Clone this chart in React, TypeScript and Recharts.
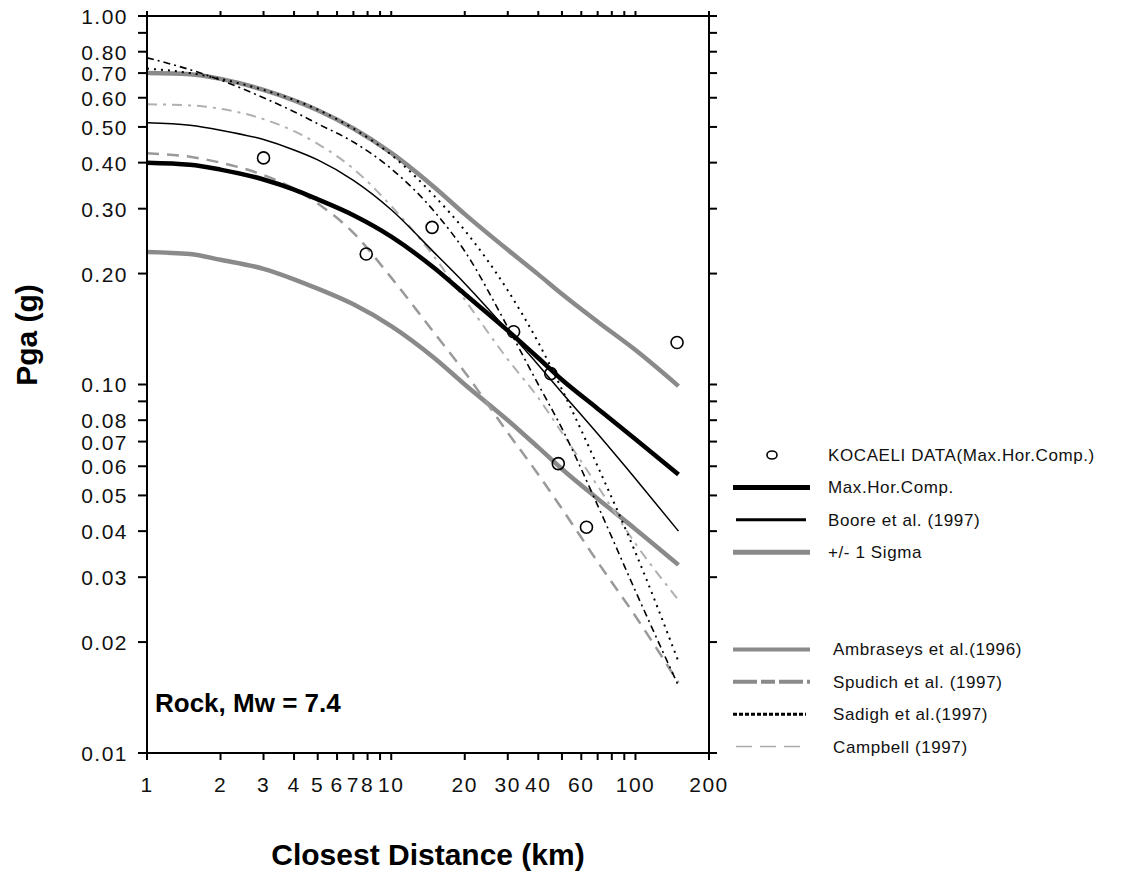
import React from 'react';
import { ComposedChart, Line, Scatter, XAxis, YAxis } from 'recharts';

// ---- data ----
const distances = [1, 1.5, 2, 3, 4, 5, 7, 10, 15, 20, 30, 40, 50, 70, 100, 150];
const maxHorComp = [0.40, 0.395, 0.383, 0.36, 0.338, 0.318, 0.288, 0.252, 0.207, 0.176, 0.14, 0.118, 0.103, 0.086, 0.071, 0.057];
const boore = [0.513, 0.505, 0.49, 0.462, 0.433, 0.407, 0.358, 0.298, 0.228, 0.188, 0.14, 0.113, 0.095, 0.0735, 0.0555, 0.040];
const sigmaUpper = [0.70, 0.695, 0.675, 0.63, 0.59, 0.555, 0.495, 0.425, 0.343, 0.29, 0.232, 0.199, 0.176, 0.148, 0.124, 0.099];
const sigmaLower = [0.229, 0.226, 0.218, 0.206, 0.193, 0.182, 0.165, 0.144, 0.118, 0.10, 0.08, 0.0675, 0.059, 0.049, 0.0405, 0.0324];
const ambraseys = [0.576, 0.572, 0.56, 0.525, 0.487, 0.45, 0.385, 0.305, 0.222, 0.17, 0.117, 0.092, 0.074, 0.053, 0.037, 0.026];
const spudich = [0.424, 0.415, 0.40, 0.37, 0.34, 0.31, 0.258, 0.195, 0.138, 0.108, 0.074, 0.057, 0.046, 0.033, 0.0235, 0.0155];
const sadigh = [0.72, 0.70, 0.675, 0.63, 0.592, 0.557, 0.495, 0.42, 0.325, 0.262, 0.18, 0.13, 0.097, 0.06, 0.035, 0.0177];
const campbell = [0.77, 0.715, 0.67, 0.60, 0.55, 0.51, 0.455, 0.385, 0.295, 0.23, 0.143, 0.10, 0.076, 0.047, 0.0275, 0.0152];

const kocaeliDist = [3.0, 7.9, 14.7, 31.7, 45, 48.3, 63, 148];
const kocaeliPga = [0.412, 0.226, 0.267, 0.139, 0.107, 0.061, 0.041, 0.130];

const xTicks = [1, 2, 3, 4, 5, 6, 7, 8, 9, 10, 20, 30, 40, 50, 60, 70, 80, 90, 100, 200];
const xTickLabels = [1, 2, 3, 4, 5, 6, 7, 8, 10, 20, 30, 40, 60, 100, 200];
const yTicks = [0.01, 0.02, 0.03, 0.04, 0.05, 0.06, 0.07, 0.08, 0.09, 0.1, 0.2, 0.3, 0.4, 0.5, 0.6, 0.7, 0.8, 0.9, 1];
const yUnlabeled = [0.09, 0.9];

const legendLabels = [
  'KOCAELI DATA(Max.Hor.Comp.)',
  'Max.Hor.Comp.',
  'Boore et al. (1997)',
  '+/- 1 Sigma',
  'Ambraseys et al.(1996)',
  'Spudich et al. (1997)',
  'Sadigh et al.(1997)',
  'Campbell (1997)',
];

// ---- tables built from the arrays ----
const rows = distances.map((d, i) => ({
  d,
  max: maxHorComp[i],
  boore: boore[i],
  sigU: sigmaUpper[i],
  sigL: sigmaLower[i],
  amb: ambraseys[i],
  spu: spudich[i],
  sad: sadigh[i],
  cam: campbell[i],
}));
const points = kocaeliDist.map((d, i) => ({ d, pga: kocaeliPga[i] }));

const FONT = 'Arial, "Liberation Sans", sans-serif';

const tickFont: React.CSSProperties = {
  fontFamily: FONT,
  fontSize: 21,
  letterSpacing: 1.5,
};

const renderBottomTick = (props: any) => {
  const { x, y, payload } = props;
  const v = payload.value;
  if (!xTickLabels.includes(v)) return <g />;
  return (
    <text x={x} y={y} dy="0.71em" textAnchor="middle" fill="#111" style={tickFont}>
      {String(v)}
    </text>
  );
};

const renderLeftTick = (props: any) => {
  const { x, y, payload } = props;
  const v = payload.value;
  if (yUnlabeled.includes(v)) return <g />;
  return (
    <text x={x} y={y} dy="0.38em" textAnchor="end" fill="#111" style={tickFont}>
      {Number(v).toFixed(2)}
    </text>
  );
};

const emptyTick = () => <g />;

const circleShape = (props: any) => (
  <circle cx={props.cx} cy={props.cy} r={6} fill="none" stroke="#000" strokeWidth={1.6} />
);

const axisStroke = { stroke: '#000', strokeWidth: 2 };

const SIGMA = '#8a8a8a';

function LegendSample({ i, y }: { i: number; y: number }) {
  switch (i) {
    case 0:
      return <ellipse cx={772} cy={y} rx={5} ry={4} fill="none" stroke="#000" strokeWidth={1.6} />;
    case 1:
      return <line x1={733} x2={810} y1={y} y2={y} stroke="#000" strokeWidth={5} />;
    case 2:
      return <line x1={736} x2={806} y1={y} y2={y} stroke="#000" strokeWidth={3} />;
    case 3:
      return <line x1={733} x2={810} y1={y} y2={y} stroke={SIGMA} strokeWidth={5} />;
    case 4:
      return <line x1={733} x2={810} y1={y} y2={y} stroke={SIGMA} strokeWidth={4} />;
    case 5:
      return <line x1={733} x2={810} y1={y} y2={y} stroke={SIGMA} strokeWidth={4} strokeDasharray="24 4 14 4" />;
    case 6:
      return <line x1={733} x2={806} y1={y} y2={y} stroke="#000" strokeWidth={3} strokeDasharray="4 2" />;
    default:
      return <line x1={736} x2={808} y1={y} y2={y} stroke="#aaa" strokeWidth={1.5} strokeDasharray="16 8" />;
  }
}

export default function App() {
  return (
    <div style={{ position: 'absolute', left: 0, top: 0, width: 1141, height: 871, background: '#fff' }}>
      <ComposedChart
        width={1141}
        height={871}
        data={rows}
        margin={{ top: 6, right: 422, bottom: 78, left: 87 }}
      >
        <XAxis
          dataKey="d"
          type="number"
          scale="log"
          domain={[1, 200]}
          allowDataOverflow
          ticks={xTicks}
          interval={0}
          tick={renderBottomTick}
          tickSize={7}
          tickMargin={17}
          height={40}
          axisLine={axisStroke}
          tickLine={axisStroke}
        />
        <XAxis
          xAxisId="top"
          orientation="top"
          dataKey="d"
          type="number"
          scale="log"
          domain={[1, 200]}
          allowDataOverflow
          ticks={xTicks}
          interval={0}
          tick={emptyTick}
          tickSize={5}
          height={10}
          axisLine={axisStroke}
          tickLine={axisStroke}
        />
        <YAxis
          type="number"
          scale="log"
          domain={[0.01, 1]}
          allowDataOverflow
          ticks={yTicks}
          interval={0}
          tick={renderLeftTick}
          tickSize={9}
          tickMargin={10}
          width={60}
          axisLine={axisStroke}
          tickLine={axisStroke}
        />
        <YAxis
          yAxisId="right"
          orientation="right"
          type="number"
          scale="log"
          domain={[0.01, 1]}
          allowDataOverflow
          ticks={yTicks}
          interval={0}
          tick={emptyTick}
          tickSize={8}
          width={10}
          axisLine={axisStroke}
          tickLine={axisStroke}
        />

        <Line dataKey="sigU" type="monotone" stroke={SIGMA} strokeWidth={4.5} dot={false} isAnimationActive={false} />
        <Line dataKey="sigL" type="monotone" stroke={SIGMA} strokeWidth={4.5} dot={false} isAnimationActive={false} />
        <Line dataKey="amb" type="monotone" stroke="#b0b0b0" strokeWidth={2} strokeDasharray="10 6 3 6" dot={false} isAnimationActive={false} />
        <Line dataKey="spu" type="monotone" stroke="#9a9a9a" strokeWidth={2.5} strokeDasharray="12 8" dot={false} isAnimationActive={false} />
        <Line dataKey="cam" type="monotone" stroke="#000" strokeWidth={1.6} strokeDasharray="7 4 2 4" dot={false} isAnimationActive={false} />
        <Line dataKey="sad" type="monotone" stroke="#000" strokeWidth={2} strokeDasharray="2 5" dot={false} isAnimationActive={false} />
        <Line dataKey="boore" type="monotone" stroke="#000" strokeWidth={1.5} dot={false} isAnimationActive={false} />
        <Line dataKey="max" type="monotone" stroke="#000" strokeWidth={4.5} dot={false} isAnimationActive={false} />
        <Scatter data={points} dataKey="pga" shape={circleShape} isAnimationActive={false} />
      </ComposedChart>

      <svg
        width={1141}
        height={871}
        style={{ position: 'absolute', left: 0, top: 0, pointerEvents: 'none' }}
      >
        <text
          x={37}
          y={335}
          transform="rotate(-90 37 335)"
          textAnchor="middle"
          style={{ fontFamily: FONT, fontSize: 30, fontWeight: 'bold' }}
        >
          Pga (g)
        </text>
        <text
          x={428}
          y={865}
          textAnchor="middle"
          style={{ fontFamily: FONT, fontSize: 30, fontWeight: 'bold' }}
        >
          Closest Distance (km)
        </text>
        <text
          x={155}
          y={712}
          style={{ fontFamily: FONT, fontSize: 26, fontWeight: 'bold' }}
        >
          Rock, Mw = 7.4
        </text>
        {legendLabels.map((label, i) => {
          const row = i < 4 ? i : i + 2;
          const y = 455 + row * 32.4;
          return (
            <g key={label}>
              <LegendSample i={i} y={y} />
              <text
                x={i < 4 ? 828 : 833}
                y={y + 6}
                fill="#111"
                style={{ fontFamily: FONT, fontSize: 17, letterSpacing: 0.6 }}
              >
                {label}
              </text>
            </g>
          );
        })}
      </svg>
    </div>
  );
}
